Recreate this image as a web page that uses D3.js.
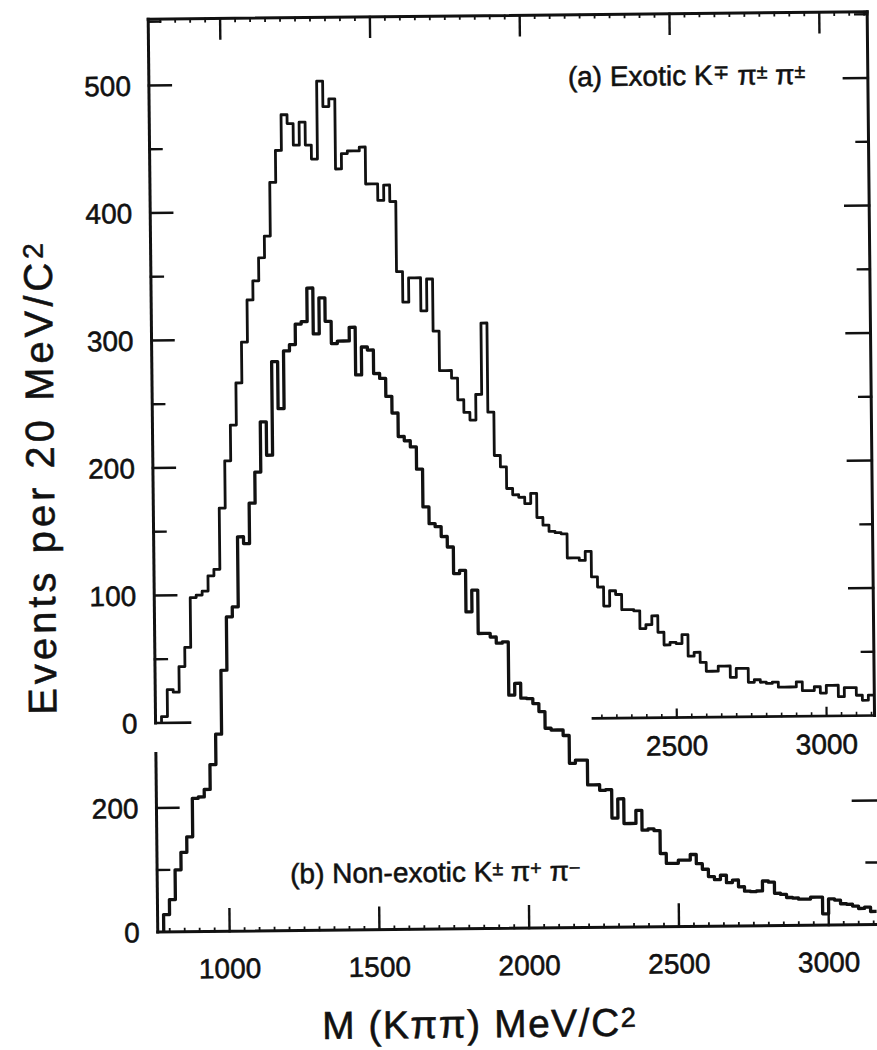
<!DOCTYPE html>
<html>
<head>
<meta charset="utf-8">
<script src="https://cdn.jsdelivr.net/npm/d3@7"></script>
<style>
  html, body { margin: 0; padding: 0; background: #fff; }
  svg { display: block; }
  text { font-family: "Liberation Sans", Arial, Helvetica, sans-serif; fill: #111; stroke: #111; stroke-width: 0.55px; }
</style>
</head>
<body>
<svg id="chart" width="877" height="1050"></svg>
<script>
// K pi pi invariant-mass spectra, 20 MeV/c^2 bins starting at 780 MeV/c^2
const binStart = 780;
const binWidth = 20;

// (a) exotic K-/+ pi+/- pi+/- combinations, events per bin
const exoticCounts = [
  5, 26, 24, 44, 59, 98, 100, 103, 115, 120,
  168, 205, 233, 266, 298, 331, 346, 364, 381, 423,
  448, 476, 469, 452, 470, 452, 441, 502, 482, 488,
  433, 445, 447, 447, 450, 421, 421, 408, 420, 407,
  352, 328, 347, 347, 321, 346, 305, 274, 274, 268,
  251, 241, 235, 255, 311, 241, 207, 198, 181, 176,
  174, 169, 177, 158, 152, 147, 146, 145, 126, 126,
  124, 131, 111, 103, 88, 100, 97, 85, 85, 84,
  70, 73, 80, 67, 57, 59, 58, 65, 48, 51,
  43, 36, 36, 40, 40, 31, 38, 38, 27, 29,
  27, 26, 27, 23, 23, 23, 27, 20, 20, 23,
  18, 24, 24, 15, 22, 22, 16, 12, 16
];

// (b) non-exotic K+/- pi+ pi- combinations, events per bin
const nonExoticCounts = [
  28, 52, 100, 128, 153, 215, 217, 229, 269, 318,
  421, 507, 523, 636, 625, 690, 740, 821, 767, 918,
  842, 935, 945, 978, 982, 1036, 962, 1020, 982, 946,
  950, 950, 972, 895, 940, 935, 897, 889, 860, 833,
  795, 788, 778, 742, 681, 654, 649, 633, 616, 573,
  578, 511, 546, 476, 476, 470, 460, 462, 376, 395,
  371, 370, 362, 349, 322, 319, 319, 310, 265, 270,
  270, 230, 230, 221, 222, 176, 207, 167, 167, 188,
  156, 158, 155, 118, 102, 102, 107, 107, 116, 101,
  92, 80, 75, 82, 70, 74, 63, 56, 55, 56,
  72, 70, 52, 50, 45, 44, 42, 42, 45, 45,
  18, 42, 40, 34, 33, 30, 26, 28, 21
];

const massTicks = [1000, 1500, 2000, 2500, 3000];
const innerMassTicks = [2500, 3000];
const exoticYTicks = [0, 100, 200, 300, 400, 500];
const nonExoticYTicks = [0, 200];

// ---- layout ----
const svg = d3.select("#chart");
// the printed figure sits very slightly turned on the page
const root = svg.append("g").attr("transform", "rotate(-0.6, 516, 476)");

const x = d3.scaleLinear().domain([760, 3160]).range([153, 872]);
const yA = d3.scaleLinear().domain([0, 500]).range([719.2, 81.7]);
const yB = d3.scaleLinear().domain([0, 200]).range([928.2, 804.2]);

const ink = "#111";
const massMin = 760, massMax = 3160, massMaxB = 3175;
const topA = 552, topAxisB = 288;

function seg(g, x1, y1, x2, y2, w) {
  g.append("line")
    .attr("x1", x1).attr("y1", y1).attr("x2", x2).attr("y2", y2)
    .attr("stroke", ink).attr("stroke-width", w)
    .attr("stroke-linecap", "square");
}

const frame = root.append("g");

// panel (a) frame
seg(frame, x(massMin), yA(topA), x(massMax), yA(topA), 3);
seg(frame, x(massMin), yA(topA), x(massMin), yA(0), 3);
seg(frame, x(massMax), yA(topA), x(massMax), yA(0), 3);
seg(frame, x(massMin), yA(0), x(875), yA(0), 2.6);
seg(frame, x(2220), yA(0), x(massMax), yA(0), 2.6);

// panel (b) axes
seg(frame, x(massMin), yB(0), x(massMin), yB(topAxisB), 3);
seg(frame, x(massMin), yB(0), x(massMaxB), yB(0), 3);
seg(frame, x(massMaxB), yB(0), x(massMaxB), yB(topAxisB), 3);

// mass ticks: top edge, bottom axis of (b), inner axis of (a)
const ticks = root.append("g");
d3.range(800, massMax, 50).forEach(m => {
  const major = m % 500 === 0;
  seg(ticks, x(m), yA(topA), x(m), yA(topA) + (major ? 20 : 3), major ? 2.4 : 1.8);
});
d3.range(800, massMaxB, 50).forEach(m => {
  const major = m % 500 === 0;
  seg(ticks, x(m), yB(0), x(m), yB(0) - (major ? 22 : 3), major ? 2.4 : 1.8);
});
d3.range(2250, massMax, 50).forEach(m => {
  const major = innerMassTicks.includes(m);
  seg(ticks, x(m), yA(0), x(m), yA(0) - (major ? 8 : 3), major ? 2.2 : 1.6);
});

// count ticks
d3.range(50, topA, 50).forEach(v => {
  const major = v % 100 === 0;
  seg(ticks, x(massMin), yA(v), x(massMin) + (major ? 22 : 12), yA(v), 2.4);
  seg(ticks, x(massMax), yA(v), x(massMax) - (major ? 24 : 12), yA(v), 2.4);
});
[100, 200].forEach(v => {
  const major = nonExoticYTicks.includes(v);
  seg(ticks, x(massMin), yB(v), x(massMin) + (major ? 22 : 12), yB(v), 2.4);
  seg(ticks, x(massMaxB), yB(v), x(massMaxB) - (major ? 27 : 14), yB(v), 2.4);
});

// ---- histograms ----
function stepPoints(counts) {
  const pts = [[binStart, 0]];
  counts.forEach((c, i) => pts.push([binStart + i * binWidth, c]));
  pts.push([binStart + counts.length * binWidth, counts[counts.length - 1]]);
  return pts;
}

const lineA = d3.line().x(d => x(d[0])).y(d => yA(d[1])).curve(d3.curveStepAfter);
const lineB = d3.line().x(d => x(d[0])).y(d => yB(d[1])).curve(d3.curveStepAfter);

root.append("path")
  .attr("d", lineB(stepPoints(nonExoticCounts)))
  .attr("fill", "none").attr("stroke", ink).attr("stroke-width", 3.3)
  .attr("stroke-linejoin", "round");

root.append("path")
  .attr("d", lineA(stepPoints(exoticCounts)))
  .attr("fill", "none").attr("stroke", ink).attr("stroke-width", 2.8)
  .attr("stroke-linejoin", "round");

// ---- labels ----
const labels = root.append("g").attr("font-size", 28);

exoticYTicks.forEach(v => {
  labels.append("text").attr("x", 135).attr("y", yA(v)).attr("dy", "0.36em")
    .attr("text-anchor", "end").text(v);
});
nonExoticYTicks.forEach(v => {
  labels.append("text").attr("x", 135).attr("y", yB(v)).attr("dy", "0.36em")
    .attr("text-anchor", "end").text(v);
});
massTicks.forEach(m => {
  labels.append("text").attr("x", x(m)).attr("y", yB(0) + 47)
    .attr("text-anchor", "middle").text(m);
});
innerMassTicks.forEach(m => {
  labels.append("text").attr("x", x(m)).attr("y", yA(0) + 38)
    .attr("text-anchor", "middle").text(m);
});

function sup(t, s) {
  t.append("tspan").attr("baseline-shift", "32%").attr("font-size", "70%").text(s);
}

const la = labels.append("text").attr("x", 572).attr("y", 87);
la.append("tspan").text("(a) Exotic K");
sup(la, "\u2213");
la.append("tspan").text(" \u03c0");
sup(la, "\u00b1");
la.append("tspan").text(" \u03c0");
sup(la, "\u00b1");

const lb = labels.append("text").attr("x", 286).attr("y", 881);
lb.append("tspan").text("(b) Non-exotic K");
sup(lb, "\u00b1");
lb.append("tspan").text(" \u03c0");
sup(lb, "+");
lb.append("tspan").text(" \u03c0");
sup(lb, "\u2212");

// axis titles
const xt = labels.append("text").attr("x", 474).attr("y", 1037)
  .attr("text-anchor", "middle").attr("font-size", 39).attr("letter-spacing", 1.5);
xt.append("tspan").text("M  (K\u03c0\u03c0)  MeV/C");
sup(xt, "2");

const yt = labels.append("text")
  .attr("transform", "translate(54,472) rotate(-90)")
  .attr("text-anchor", "middle").attr("font-size", 40).attr("letter-spacing", 4);
yt.append("tspan").text("Events per 20 MeV/C");
sup(yt, "2");
</script>
</body>
</html>
